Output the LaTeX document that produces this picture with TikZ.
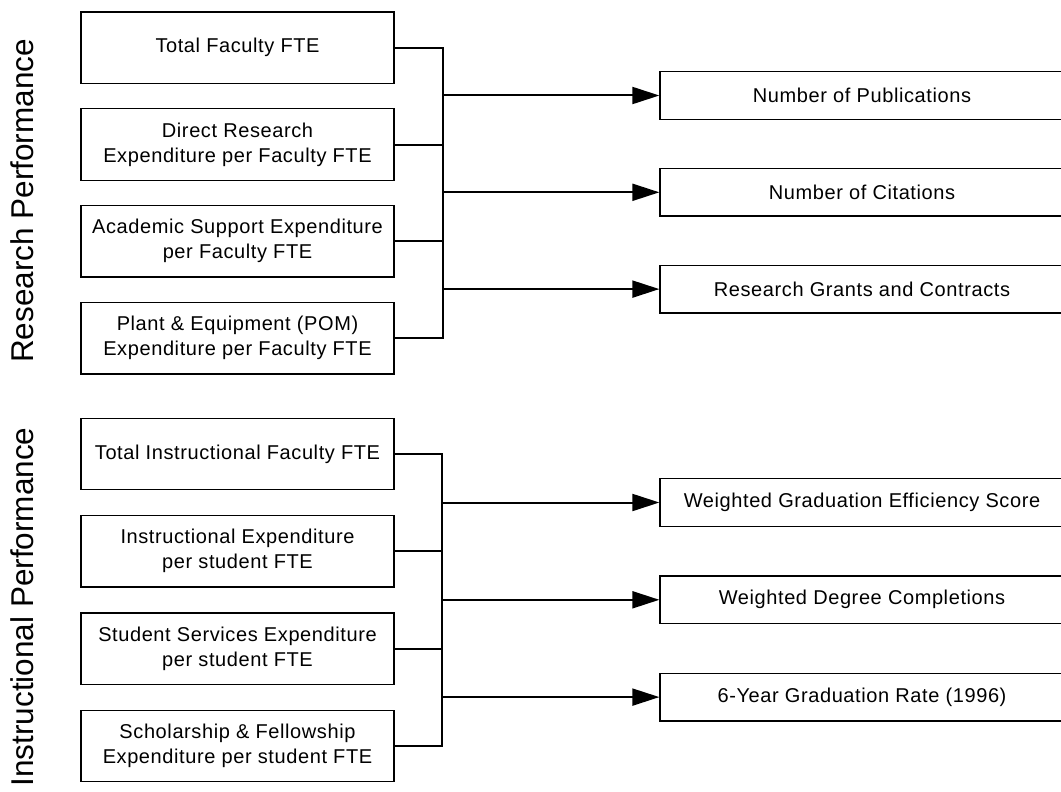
\documentclass[tikz,border=0pt]{standalone}
\usepackage{fontspec}
\setmainfont{Liberation Sans}
\newfontfamily\boxfont[LetterSpace=3]{Liberation Sans}
\usetikzlibrary{arrows.meta,calc,positioning}
\tikzset{%
inbox/.style={draw, line width=1.3pt, minimum width=313pt, minimum height=71.5pt,
  inner sep=0pt, align=center, font=\boxfont\fontsize{20}{25}\selectfont},
outbox/.style={draw, line width=1.3pt, minimum width=404pt, minimum height=47.5pt,
  inner sep=0pt, font=\boxfont\fontsize{20}{25}\selectfont},
side/.style={rotate=90, anchor=base, font=\fontsize{31.5}{36}\selectfont},
link/.style={line width=2pt},
feed/.style={line width=2pt, -{Triangle[length=27pt,width=17pt]}}
}

\begin{document}
\begin{tikzpicture}[x=1pt,y=-1pt]
\useasboundingbox (0,0) rectangle (1061,792);
\clip (0,0) rectangle (1061,792);

% group labels
\node[side] (rlab) at (33,201) {Research Performance};
\node[side] (ilab) at (33,607) {Instructional Performance};

% research inputs
\node[inbox] (tf) at (237.5,47.7) {Total Faculty FTE};
\node[inbox, below=24pt of tf] (dr) {Direct Research\\Expenditure per Faculty FTE};
\node[inbox, below=24pt of dr] (as) {Academic Support Expenditure\\per Faculty FTE};
\node[inbox, below=24pt of as] (pe) {Plant \& Equipment (POM)\\Expenditure per Faculty FTE};

% research outputs
\node[outbox] (pub) at (862,95.5) {Number of Publications};
\node[outbox, below=48pt of pub] (cit) {Number of Citations};
\node[outbox, below=48pt of cit] (grt) {Research Grants and Contracts};

% instructional inputs
\node[inbox] (ti) at (237.5,454) {Total Instructional Faculty FTE};
\node[inbox, below=24.5pt of ti] (ie) {Instructional Expenditure\\per student FTE};
\node[inbox, below=24.5pt of ie] (ss) {Student Services Expenditure\\per student FTE};
\node[inbox, below=24.5pt of ss] (sf) {Scholarship \& Fellowship\\Expenditure per student FTE};

% instructional outputs
\node[outbox] (wge) at (862,502.5) {Weighted Graduation Efficiency Score};
\node[outbox, below=48.5pt of wge] (wdc) {Weighted Degree Completions};
\node[outbox, below=48.5pt of wdc] (gr6) {6-Year Graduation Rate (1996)};

% buses
\coordinate (rbus) at (443,0);
\coordinate (ibus) at (442,0);

\draw[link] (tf.east) -- (tf.east -| rbus) -- (pe.east -| rbus) -- (pe.east);
\draw[link] (dr.east) -- (dr.east -| rbus);
\draw[link] (as.east) -- (as.east -| rbus);
\foreach \o in {pub,cit,grt}
  \draw[feed] (\o.west -| rbus) -- (\o.west);

\draw[link] (ti.east) -- (ti.east -| ibus) -- (sf.east -| ibus) -- (sf.east);
\draw[link] (ie.east) -- (ie.east -| ibus);
\draw[link] (ss.east) -- (ss.east -| ibus);
\foreach \o in {wge,wdc,gr6}
  \draw[feed] (\o.west -| ibus) -- (\o.west);

\end{tikzpicture}
\end{document}
